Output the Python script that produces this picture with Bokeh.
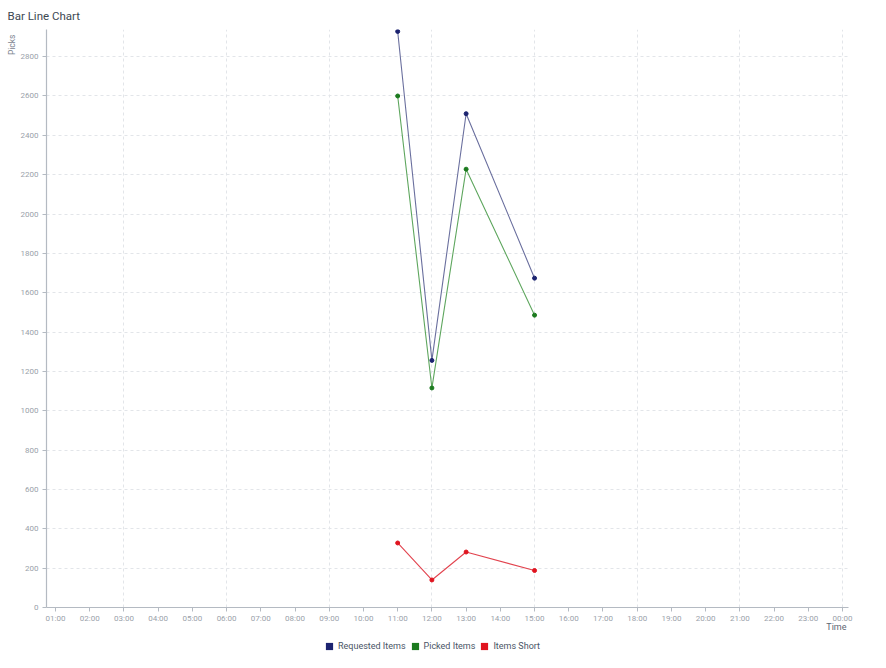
from datetime import datetime, timedelta
from bokeh.plotting import figure
from bokeh.layouts import column
from bokeh.models import (Range1d, FixedTicker, Title, Legend, LegendItem,
                          DatetimeTickFormatter, ColumnDataSource)
from bokeh.embed import file_html
from bokeh.resources import INLINE

# ---- data ----
times = ["11:00", "12:00", "13:00", "15:00"]
requested_items = [2928, 1256, 2510, 1674]
picked_items = [2600, 1116, 2228, 1486]
items_short = [328, 140, 282, 188]
series_names = ["Requested Items", "Picked Items", "Items Short"]
hour_ticks = list(range(1, 25))
grid_hours = list(range(3, 25, 3))
y_ticks = list(range(0, 3000, 200))

base = datetime(2024, 1, 1)
def t(h, m=0):
    return base + timedelta(hours=h, minutes=m)

xs = [t(int(s.split(":")[0]), int(s.split(":")[1])) for s in times]

FONT = "Roboto"
W, H_MAIN, H_LEG = 878, 636, 24
x_rng = Range1d(t(0, 44.2), t(24, 10.5))
y_rng = Range1d(0, 2938)
p = figure(width=W, height=H_MAIN, output_backend="svg", toolbar_location=None,
           x_axis_type="datetime", x_range=x_rng, y_range=y_rng,
           min_border_left=46, min_border_right=30,
           min_border_top=29, min_border_bottom=29)
p.outline_line_color = None
p.background_fill_color = "white"
p.border_fill_color = "white"

p.title.text = "Bar Line Chart"
p.title.align = "left"
p.title.offset = -39
p.title.text_font = FONT
p.title.text_font_size = "11.5px"
p.title.text_font_style = "normal"
p.title.text_color = "#3d4852"
p.title.standoff = 13

ms = lambda h: (t(h) - datetime(1970, 1, 1)).total_seconds() * 1000.0

# axes
xa = p.xaxis[0]
xa.ticker = FixedTicker(ticks=[ms(h) for h in hour_ticks])
xa.formatter = DatetimeTickFormatter(hours="%H:%M", days="%H:%M", minutes="%H:%M",
                                     hourmin="%H:%M", months="%H:%M", years="%H:%M")
ya = p.yaxis[0]
ya.ticker = FixedTicker(ticks=y_ticks)
for ax in (xa, ya):
    ax.axis_line_color = "#b4bac2"
    ax.axis_line_width = 1.2
    ax.major_tick_line_color = "#b4bac2"
    ax.major_tick_out = 4
    ax.major_tick_in = 0
    ax.minor_tick_line_color = None
    ax.major_label_text_font = FONT
    ax.major_label_text_font_size = "8px"
    ax.major_label_text_color = "#9aa1aa"
xa.major_label_standoff = 2
ya.major_label_standoff = 4

# axis titles
p.add_layout(Title(text="Picks", align="right", text_font=FONT,
                   text_font_size="8.5px", text_font_style="normal",
                   text_color="#7d8591", standoff=2, offset=5), "left")
p.add_layout(Title(text="Time", align="right", text_font=FONT,
                   text_font_size="9px", text_font_style="normal",
                   text_color="#5d6673", standoff=-12, offset=2), "below")

# grids
p.xgrid.ticker = FixedTicker(ticks=[ms(h) for h in grid_hours])
p.ygrid.ticker = FixedTicker(ticks=y_ticks[1:])
for g in (p.xgrid, p.ygrid):
    g.grid_line_color = "#e2e5e9"
    g.grid_line_dash = "3 3"
    g.grid_line_width = 1

colors_pt = ["#1c2370", "#1b7a1e", "#e0141f"]
colors_ln = ["#6a6f9e", "#5ea65e", "#e2444f"]
series = [requested_items, picked_items, items_short]

# legend strip below the chart
lg = figure(width=W, height=H_LEG, output_backend="svg", toolbar_location=None,
            x_range=x_rng, y_range=y_rng,
            min_border=0, min_border_left=0, min_border_right=0,
            min_border_top=0, min_border_bottom=0)
lg.axis.visible = False
lg.grid.visible = False
lg.outline_line_color = None
lg.border_fill_color = "white"
lg.background_fill_color = "white"

legend_items = []
for name, vals, cp, cl in zip(series_names, series, colors_pt, colors_ln):
    src = ColumnDataSource(dict(x=xs, y=vals))
    p.line("x", "y", source=src, line_color=cl, line_width=1.1)
    p.scatter("x", "y", source=src, size=4, marker="circle",
              fill_color=cp, line_color=cp)
    key = lg.scatter("x", "y", source=src, size=0, marker="square",
                     fill_color=cp, line_color=cp, line_width=0)
    legend_items.append(LegendItem(label=name, renderers=[key]))

legend = Legend(items=legend_items, orientation="horizontal",
                location=(274, 5), glyph_width=18, glyph_height=18,
                label_text_font=FONT, label_text_font_size="9px",
                label_text_color="#4a5566", label_standoff=0, spacing=0,
                padding=0, margin=0, border_line_color=None,
                background_fill_alpha=0, label_height=18, label_width=10)
lg.add_layout(legend, "center")

layout = column(p, lg, spacing=0)
open("out.html", "w").write(file_html(layout, INLINE))
